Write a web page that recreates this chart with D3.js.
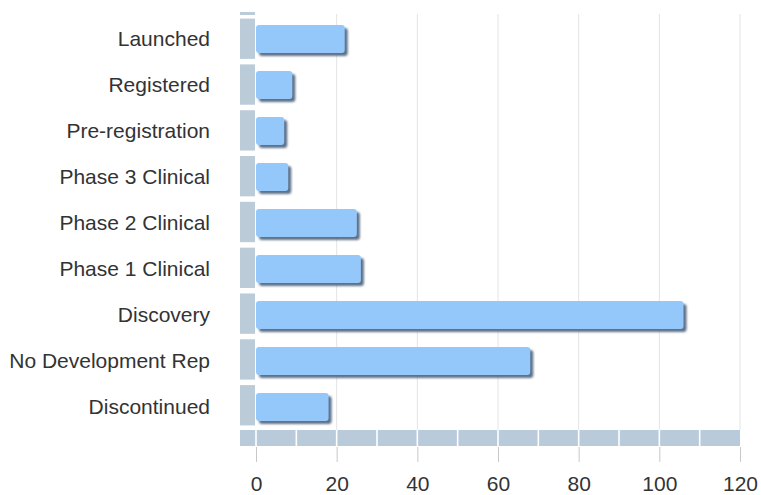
<!DOCTYPE html>
<html>
<head>
<meta charset="utf-8">
<script src="https://cdn.jsdelivr.net/npm/d3@7"></script>
<style>
  html, body { margin: 0; padding: 0; background: #fff; }
  svg { display: block; }
  text { font-family: "Liberation Sans", Arial, sans-serif; }
</style>
</head>
<body>
<div id="chart"></div>
<script>
const categories = ["Launched", "Registered", "Pre-registration", "Phase 3 Clinical", "Phase 2 Clinical", "Phase 1 Clinical", "Discovery", "No Development Rep", "Discontinued"];
const values = [22, 9, 7, 8, 25, 26, 106, 68, 18];
const xTicks = [0, 20, 40, 60, 80, 100, 120];
const minorTicks = d3.range(0, 121, 10);

const W = 761, H = 495;
const svg = d3.select("#chart").append("svg").attr("width", W).attr("height", H);

const defs = svg.append("defs");
const f = defs.append("filter").attr("id", "sh").attr("x", "-10%").attr("y", "-30%").attr("width", "130%").attr("height", "180%");
f.append("feGaussianBlur").attr("stdDeviation", 0.9);

const x = d3.scaleLinear().domain([0, 120]).range([256, 740]);
const y = d3.scaleBand().domain(categories).range([16, 430]).paddingInner(0.39).paddingOuter(0.195);
const yStrip = d3.scaleBand().domain(categories).range([14, 430]).paddingInner(0.12).paddingOuter(0.1);

// gridlines
svg.append("g").selectAll("line").data(xTicks.filter(d => d > 0)).join("line")
  .attr("x1", d => x(d)).attr("x2", d => x(d))
  .attr("y1", 14).attr("y2", 430)
  .attr("stroke", "#e4e4e4").attr("stroke-width", 1);

// left strip
svg.append("rect").attr("x", 240).attr("y", 12).attr("width", 15).attr("height", 3).attr("fill", "#bccbd8");
svg.append("g").selectAll("rect").data(categories).join("rect")
  .attr("x", 240).attr("width", 15)
  .attr("y", d => yStrip(d)).attr("height", yStrip.bandwidth())
  .attr("fill", "#bccbd8");

// bottom strip
svg.append("rect").attr("x", 240).attr("y", 430).attr("width", 500).attr("height", 16).attr("fill", "#b9cadb");
svg.append("g").selectAll("line").data(minorTicks.filter(d => d < 120)).join("line")
  .attr("x1", d => x(d)).attr("x2", d => x(d))
  .attr("y1", 430).attr("y2", 446)
  .attr("stroke", "#fff").attr("stroke-width", 1.6);

// bar shadows
svg.append("g").selectAll("rect").data(categories).join("rect")
  .attr("x", x(0) + 3)
  .attr("y", d => y(d) + 3)
  .attr("width", (d, i) => x(values[i]) - x(0))
  .attr("height", y.bandwidth())
  .attr("rx", 3)
  .attr("fill", "#5d7189")
  .attr("filter", "url(#sh)");

// bars
svg.append("g").selectAll("rect").data(categories).join("rect")
  .attr("x", x(0))
  .attr("y", d => y(d))
  .attr("width", (d, i) => x(values[i]) - x(0))
  .attr("height", y.bandwidth())
  .attr("rx", 3)
  .attr("fill", "#94c7fa");

// category labels
svg.append("g").selectAll("text").data(categories).join("text")
  .attr("x", 210)
  .attr("y", d => y(d) + y.bandwidth() / 2 + 7)
  .attr("text-anchor", "end")
  .attr("font-size", 21)
  .attr("fill", "#333")
  .text(d => d);

// x axis
const ax = svg.append("g").attr("transform", "translate(0,447)")
  .call(d3.axisBottom(x).tickValues(xTicks).tickSize(15).tickPadding(14));
ax.select(".domain").remove();
ax.selectAll(".tick line").attr("stroke", "#c8c8c8");
ax.selectAll(".tick text").attr("font-size", 21).attr("fill", "#333")
  .style("font-family", "'Liberation Sans', Arial, sans-serif");
</script>
</body>
</html>
